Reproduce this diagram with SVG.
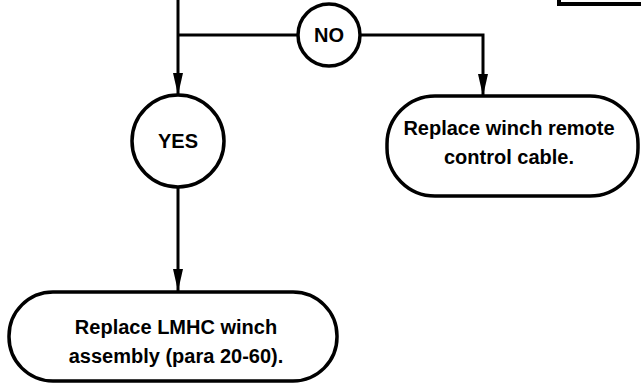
<svg xmlns="http://www.w3.org/2000/svg" width="641" height="383" viewBox="0 0 641 383">
<style>
.ln{fill:none;stroke:#000;stroke-width:3}
.nd{fill:#fff;stroke:#000;stroke-width:3.5}
.t{font-family:"Liberation Sans",Arial,sans-serif;font-weight:bold;font-size:20px;fill:#000;text-anchor:middle}
</style>
<defs>
<marker id="ah" markerWidth="22" markerHeight="10" refX="22" refY="5" orient="auto" markerUnits="userSpaceOnUse" viewBox="0 0 22 10">
<path d="M0,0 L22,5 L0,10 Z" fill="#000"/>
</marker>
</defs>
<g id="frame">
<rect x="559" y="-40" width="100" height="44" fill="#fff" stroke="#000" stroke-width="4"/>
</g>
<g id="connectors">
<line class="ln" x1="178" y1="0" x2="178" y2="95" marker-end="url(#ah)"/>
<line class="ln" x1="178" y1="35" x2="298" y2="35"/>
<polyline class="ln" points="361,35 483,35 483,96" marker-end="url(#ah)"/>
<line class="ln" x1="178" y1="187" x2="178" y2="291" marker-end="url(#ah)"/>
</g>
<g id="no">
<ellipse class="nd" cx="329" cy="35" rx="31" ry="31"/>
<text class="t" x="329" y="42">NO</text>
</g>
<g id="yes">
<circle class="nd" cx="178" cy="141" r="46"/>
<text class="t" x="178" y="148">YES</text>
</g>
<g id="remote">
<rect class="nd" x="387" y="96" width="251" height="100" rx="48" ry="48"/>
<text class="t" x="509" y="135">Replace winch remote</text>
<text class="t" x="509" y="164">control cable.</text>
</g>
<g id="assembly">
<rect class="nd" x="9" y="292" width="328" height="89" rx="44" ry="44"/>
<text class="t" x="176" y="334">Replace LMHC winch</text>
<text class="t" x="176" y="363">assembly (para 20-60).</text>
</g>
</svg>
